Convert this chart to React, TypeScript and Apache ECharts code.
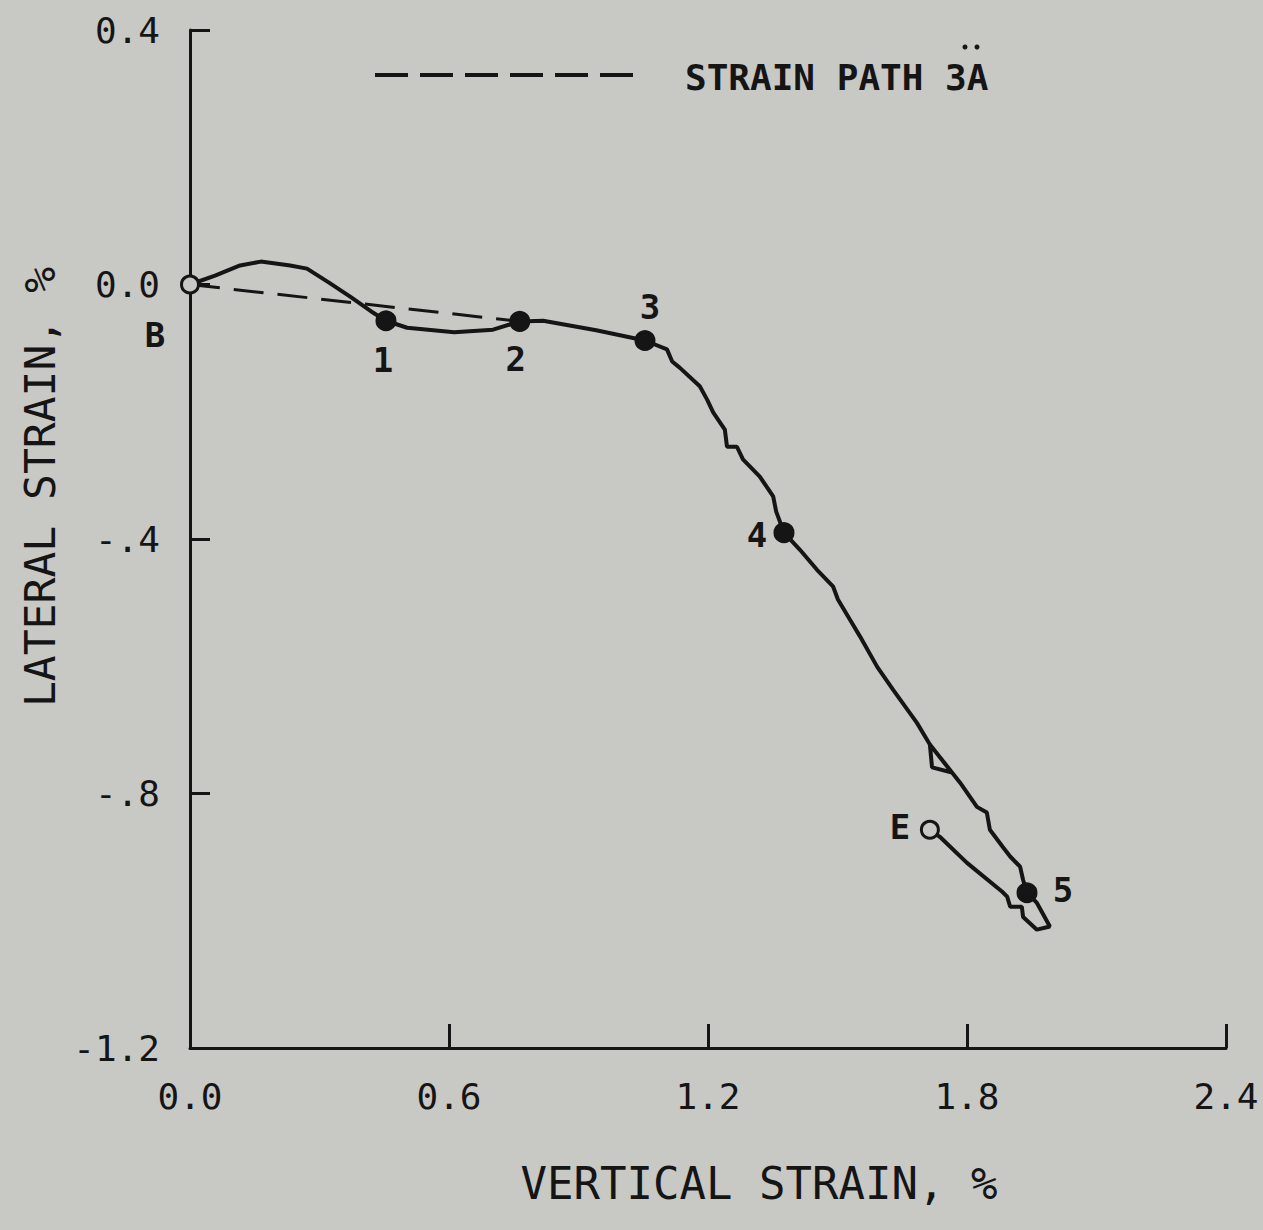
import React, { useEffect, useRef } from "react";
import * as echarts from "echarts";

// Measured strain path (vertical strain %, lateral strain %)
const mainX = [
  0, 0.058, 0.116, 0.164, 0.232, 0.271, 0.322, 0.371, 0.419, 0.454, 0.503, 0.612, 0.702, 0.764,
  0.818, 0.941, 1.054, 1.105, 1.117, 1.135, 1.181, 1.198, 1.212, 1.239, 1.244, 1.267, 1.281,
  1.32, 1.351, 1.358, 1.376, 1.413, 1.452, 1.49, 1.501, 1.529, 1.552, 1.592, 1.629, 1.684,
  1.714, 1.719, 1.765, 1.714, 1.784, 1.823, 1.846, 1.853, 1.883, 1.9, 1.923, 1.93, 1.939,
  1.962, 1.992, 1.962, 1.93, 1.927, 1.9, 1.893, 1.881, 1.8, 1.737, 1.714,
];
const mainY = [
  0, 0.014, 0.03, 0.036, 0.03, 0.025, 0.003, -0.019, -0.042, -0.057, -0.068, -0.075, -0.071,
  -0.058, -0.057, -0.072, -0.088, -0.102, -0.121, -0.131, -0.16, -0.181, -0.201, -0.228,
  -0.255, -0.255, -0.275, -0.302, -0.333, -0.357, -0.39, -0.417, -0.448, -0.475, -0.495,
  -0.527, -0.553, -0.601, -0.637, -0.689, -0.723, -0.759, -0.767, -0.723, -0.783, -0.821,
  -0.83, -0.857, -0.884, -0.899, -0.915, -0.936, -0.956, -0.972, -1.009, -1.014, -0.994,
  -0.978, -0.978, -0.962, -0.954, -0.909, -0.868, -0.857,
];

// Strain path 3A (dashed)
const pathX = [0, 0.764];
const pathY = [0, -0.058];

// Marked points
const markerNames = ["B", "1", "2", "3", "4", "5", "E"];
const markerX = [0, 0.454, 0.764, 1.054, 1.376, 1.939, 1.714];
const markerY = [0, -0.057, -0.058, -0.088, -0.39, -0.956, -0.857];
const markerFilled = [false, true, true, true, true, true, false];

// Axis tick labels
const xTickValues = [0, 0.6, 1.2, 1.8, 2.4];
const xTickLabels = ["0.0", "0.6", "1.2", "1.8", "2.4"];
const yTickValues = [0.4, 0, -0.4, -0.8, -1.2];
const yTickLabels = ["0.4", "0.0", "-.4", "-.8", "-1.2"];

const labelOffsets: Record<string, number[]> = {
  B: [-35, 50],
  "1": [-3, 39],
  "2": [-4, 38],
  "3": [5, -33],
  "4": [-27, 2],
  "5": [36, -3],
  E: [-30, -3],
};

const INK = "#151515";
const BG = "#c8c8c5";
const FONT = "'DejaVu Sans Mono', 'Liberation Mono', monospace";

function lookup(values: number[], labels: string[], v: number) {
  for (let i = 0; i < values.length; i++) {
    if (Math.abs(values[i] - v) < 1e-6) return labels[i];
  }
  return "";
}

export default function App() {
  const ref = useRef<HTMLDivElement>(null);
  useEffect(() => {
    if (!ref.current) return;
    const chart = echarts.init(ref.current, undefined, { renderer: "svg" });
    const mainData = mainX.map((x, i) => [x, mainY[i]]);
    const pathData = pathX.map((x, i) => [x, pathY[i]]);
    const markerData = markerNames.map((n, i) => ({
      name: n,
      value: [markerX[i], markerY[i]],
      itemStyle: {
        color: markerFilled[i] ? INK : BG,
        borderColor: INK,
        borderWidth: 3,
        opacity: 1,
      },
      symbolSize: markerFilled[i] ? 18 : 17,
      label: {
        show: true,
        position: "inside",
        offset: labelOffsets[n],
        formatter: n,
        color: INK,
        opacity: 1,
        fontFamily: FONT,
        fontWeight: "bold",
        fontSize: 34,
      },
    }));

    chart.setOption({
      animation: false,
      backgroundColor: BG,
      grid: { left: 190, top: 30, right: 37, bottom: 182 },
      xAxis: {
        type: "value",
        min: 0,
        max: 2.4,
        interval: 0.6,
        axisLine: { show: true, onZero: false, lineStyle: { color: INK, width: 3 } },
        axisTick: { show: true, inside: true, length: 24, lineStyle: { color: INK, width: 3 } },
        splitLine: { show: false },
        axisLabel: {
          margin: 30,
          color: INK,
          fontFamily: FONT,
          fontSize: 36,
          formatter: (v: number) => lookup(xTickValues, xTickLabels, v),
        },
      },
      yAxis: {
        type: "value",
        min: -1.2,
        max: 0.4,
        interval: 0.4,
        axisLine: { show: true, onZero: false, lineStyle: { color: INK, width: 3 } },
        axisTick: { show: true, inside: true, length: 20, lineStyle: { color: INK, width: 3 } },
        splitLine: { show: false },
        axisLabel: {
          margin: 30,
          color: INK,
          fontFamily: FONT,
          fontSize: 36,
          formatter: (v: number) => lookup(yTickValues, yTickLabels, v),
        },
      },
      graphic: [
        {
          type: "line",
          shape: { x1: 375, y1: 75, x2: 640, y2: 75 },
          style: { stroke: INK, lineWidth: 4, lineDash: [33, 12] },
        },
        {
          type: "text",
          x: 685,
          y: 77,
          style: {
            text: "STRAIN PATH 3A",
            fill: INK,
            font: `bold 36px ${FONT}`,
            textVerticalAlign: "middle",
          },
        },
        { type: "circle", shape: { cx: 965, cy: 47, r: 2.5 }, style: { fill: INK } },
        { type: "circle", shape: { cx: 977, cy: 47, r: 2.5 }, style: { fill: INK } },
        {
          type: "text",
          x: 759,
          y: 1183,
          style: {
            text: "VERTICAL STRAIN, %",
            fill: INK,
            font: `44px ${FONT}`,
            textAlign: "center",
            textVerticalAlign: "middle",
          },
        },
        {
          type: "text",
          x: 40,
          y: 487,
          rotation: Math.PI / 2,
          style: {
            text: "LATERAL STRAIN, %",
            fill: INK,
            font: `43px ${FONT}`,
            textAlign: "center",
            textVerticalAlign: "middle",
          },
        },
      ],
      series: [
        {
          type: "line",
          data: pathData,
          showSymbol: false,
          lineStyle: { color: INK, width: 3, type: [30, 14] },
          z: 2,
        },
        {
          type: "line",
          data: mainData,
          showSymbol: false,
          lineStyle: { color: INK, width: 4 },
          z: 3,
        },
        {
          type: "scatter",
          data: markerData,
          clip: false,
          itemStyle: { opacity: 1 },
          z: 4,
        },
      ],
    });
    return () => chart.dispose();
  }, []);
  return (
    <div
      ref={ref}
      style={{ position: "absolute", left: 0, top: 0, width: 1263, height: 1230 }}
    />
  );
}
